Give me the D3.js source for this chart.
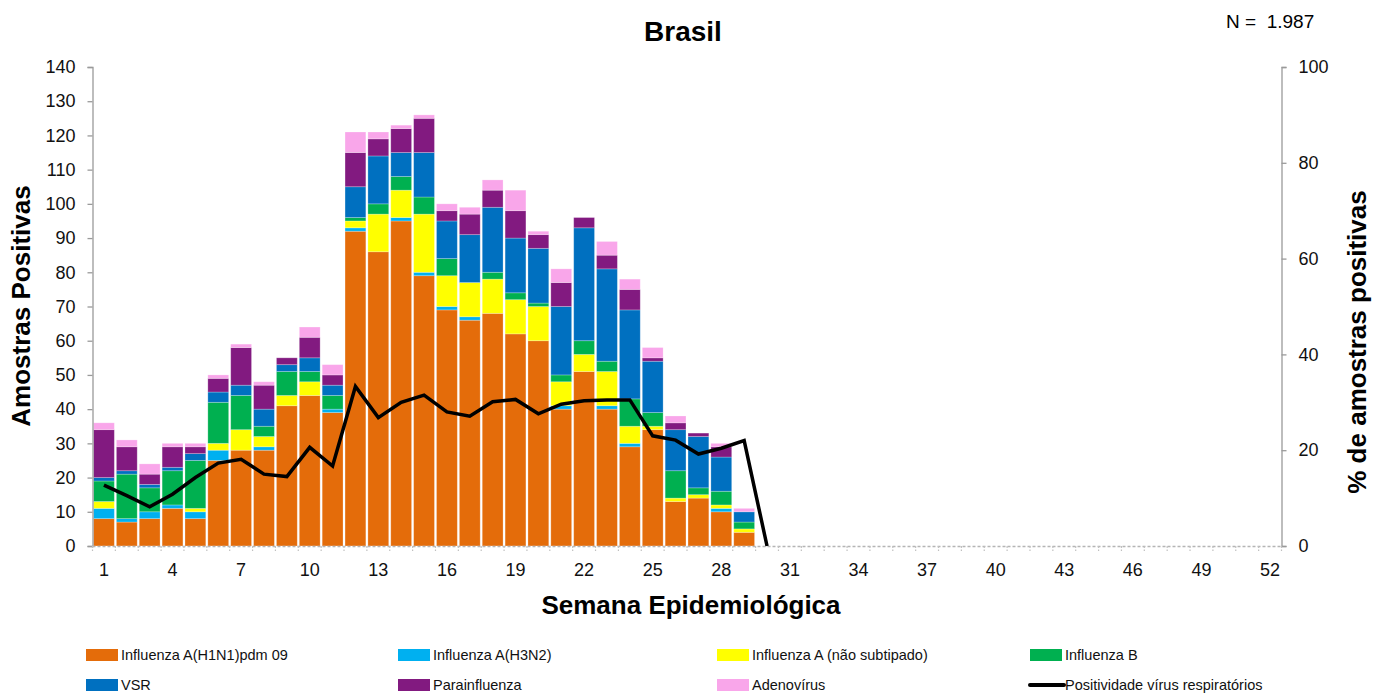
<!DOCTYPE html>
<html><head><meta charset="utf-8">
<script src="https://cdn.jsdelivr.net/npm/d3@7"></script>
<style>
html,body{margin:0;padding:0;background:#fff;}
svg{display:block;font-family:"Liberation Sans",Arial,sans-serif;}
</style></head>
<body>
<svg id="chart" width="1373" height="693"></svg>
<script>
// ---- data ----
const weeks = d3.range(1, 53);
const dataWeeks = d3.range(1, 30);
const seriesNames = ["Influenza A(H1N1)pdm 09","Influenza A(H3N2)","Influenza A (não subtipado)","Influenza B","VSR","Parainfluenza","Adenovírus"];
const seriesColors = ["#E46C0A","#00B0F0","#FFFF00","#00B050","#0070C0","#821A80","#F9A6EA"];
const h1n1   = [8,7,8,11,8,25,28,28,41,44,39,92,86,95,79,69,66,68,62,60,40,51,40,29,34,13,14,10,4];
const h3n2   = [3,1,2,1,2,3,0,1,0,0,1,1,0,1,1,1,1,0,0,0,1,0,1,1,0,0,0,1,0];
const fluANs = [2,0,0,0,1,2,6,3,3,4,0,2,11,8,17,9,10,10,10,10,7,5,10,5,1,1,1,1,1];
const fluB   = [6,13,7,10,14,12,10,3,7,3,4,1,3,4,5,5,0,2,2,1,2,4,3,8,4,8,2,4,2];
const vsr    = [1,1,1,1,2,3,3,5,2,4,3,9,14,7,13,11,14,19,16,16,20,33,27,26,15,12,15,10,3];
const parai  = [14,7,3,6,2,4,11,7,2,6,3,10,5,7,10,3,6,5,8,4,7,3,4,6,1,2,1,3,0];
const adeno  = [2,2,3,1,1,1,1,1,0,3,3,6,2,1,1,2,2,3,6,1,4,0,4,3,3,2,0,1,1];
const positividade = [12.7,10.5,8.2,10.8,14.3,17.3,18.1,15.0,14.5,20.6,16.7,33.3,26.8,30.0,31.5,28.0,27.1,30.1,30.6,27.6,29.6,30.3,30.5,30.5,23.0,22.1,19.2,20.4,22.0,0];
const leftTicks = d3.range(0, 141, 10);
const rightTicks = [0,20,40,60,80,100];
const xLabelWeeks = d3.range(1, 53, 3);
const lineLabel = "Positividade vírus respiratórios";

// ---- layout ----
const svg = d3.select("#chart");
const L = 92.5, R = 1281.5, T = 67, B = 546;
const x = d3.scaleBand().domain(weeks).range([L, R]).paddingInner(0.09).paddingOuter(0.045);
const y = d3.scaleLinear().domain([0, 140]).range([B, T]);
const y2 = d3.scaleLinear().domain([0, 100]).range([B, T]);

const allSeries = [h1n1, h3n2, fluANs, fluB, vsr, parai, adeno];
const table = dataWeeks.map((w, i) => {
  const o = {week: w};
  seriesNames.forEach((n, k) => o[n] = allSeries[k][i]);
  return o;
});
const stacked = d3.stack().keys(seriesNames)(table);

// bars
const g = svg.append("g");
stacked.forEach((layer, k) => {
  g.selectAll(null).data(layer.filter(d => d[1] > d[0])).enter().append("rect")
    .attr("x", d => x(d.data.week))
    .attr("width", x.bandwidth())
    .attr("y", d => y(d[1]))
    .attr("height", d => y(d[0]) - y(d[1]))
    .attr("fill", seriesColors[k])
    .attr("stroke", "rgba(255,255,255,0.3)")
    .attr("stroke-width", 0.8);
});

// left axis
const la = svg.append("g").attr("transform", `translate(${L},0)`)
  .call(d3.axisLeft(y).tickValues(leftTicks).tickSize(5).tickPadding(12));
la.select(".domain").attr("stroke", "#9a9a9a").attr("stroke-width", 1.3);
la.selectAll(".tick line").attr("stroke", "#9a9a9a").attr("stroke-width", 1.3);
la.selectAll(".tick text").attr("font-size", 18).attr("fill", "#111").attr("font-family", "Liberation Sans, Arial");

// right axis
const ra = svg.append("g").attr("transform", `translate(${R},0)`)
  .call(d3.axisRight(y2).tickValues(rightTicks).tickSize(5).tickPadding(12));
ra.select(".domain").attr("stroke", "#9a9a9a").attr("stroke-width", 1.3);
ra.selectAll(".tick line").attr("stroke", "#9a9a9a").attr("stroke-width", 1.3);
ra.selectAll(".tick text").attr("font-size", 18).attr("fill", "#111").attr("font-family", "Liberation Sans, Arial");

// x axis (dashed baseline with boundary ticks)
const xa = svg.append("g");
xa.append("line").attr("x1", L).attr("x2", R).attr("y1", B + 0.5).attr("y2", B + 0.5)
  .attr("stroke", "#b5b5b5").attr("stroke-width", 1.3).attr("stroke-dasharray", "3,2");
const bounds = d3.range(0, 53).map(i => L + i * (R - L) / 52);
xa.selectAll(null).data(bounds).enter().append("line")
  .attr("x1", d => d).attr("x2", d => d).attr("y1", B).attr("y2", B + 5)
  .attr("stroke", "#c0c0c0").attr("stroke-width", 1.2).attr("stroke-dasharray", "2,1.5");
xa.selectAll(null).data(xLabelWeeks).enter().append("text")
  .attr("x", d => x(d) + x.bandwidth() / 2).attr("y", 576)
  .attr("text-anchor", "middle").attr("font-size", 18).attr("fill", "#111")
  .text(d => d);

// line
const line = d3.line()
  .x((d, i) => x(i + 1) + x.bandwidth() / 2)
  .y(d => y2(d));
svg.append("path").datum(positividade).attr("d", line)
  .attr("fill", "none").attr("stroke", "#000").attr("stroke-width", 3.5).attr("stroke-linejoin", "miter");

// titles
svg.append("text").attr("x", 683).attr("y", 41).attr("text-anchor", "middle")
  .attr("font-size", 28).attr("font-weight", "bold").text("Brasil");
svg.append("text").attr("x", 1226).attr("y", 28).attr("font-size", 19)
  .attr("xml:space", "preserve").style("white-space", "pre").text("N =  1.987");
svg.append("text").attr("transform", "translate(30,306) rotate(-90)").attr("text-anchor", "middle")
  .attr("font-size", 26).attr("font-weight", "bold").text("Amostras Positivas");
svg.append("text").attr("transform", "translate(1366,342) rotate(-90)").attr("text-anchor", "middle")
  .attr("font-size", 26).attr("font-weight", "bold").text("% de amostras positivas");
svg.append("text").attr("x", 691).attr("y", 614).attr("text-anchor", "middle")
  .attr("font-size", 26).attr("font-weight", "bold").text("Semana Epidemiológica");

// legend
const legItems = seriesNames.map((n, k) => ({name: n, color: seriesColors[k], type: "rect"}))
  .concat([{name: lineLabel, color: "#000", type: "line"}]);
const colX = [86, 398, 717, 1030];
const rowY = [655, 685];
legItems.forEach((it, i) => {
  const cx = colX[i % 4], cy = rowY[Math.floor(i / 4)];
  const lg = svg.append("g");
  if (it.type === "rect") {
    lg.append("rect").attr("x", cx).attr("y", cy - 6).attr("width", 32).attr("height", 12).attr("fill", it.color);
  } else {
    lg.append("line").attr("x1", cx).attr("x2", cx + 34).attr("y1", cy).attr("y2", cy)
      .attr("stroke", "#000").attr("stroke-width", 4).attr("stroke-linecap", "round");
  }
  lg.append("text").attr("x", cx + 35).attr("y", cy + 5).attr("font-size", 14.5).attr("fill", "#111")
    .text(it.name);
});
</script>
</body></html>
